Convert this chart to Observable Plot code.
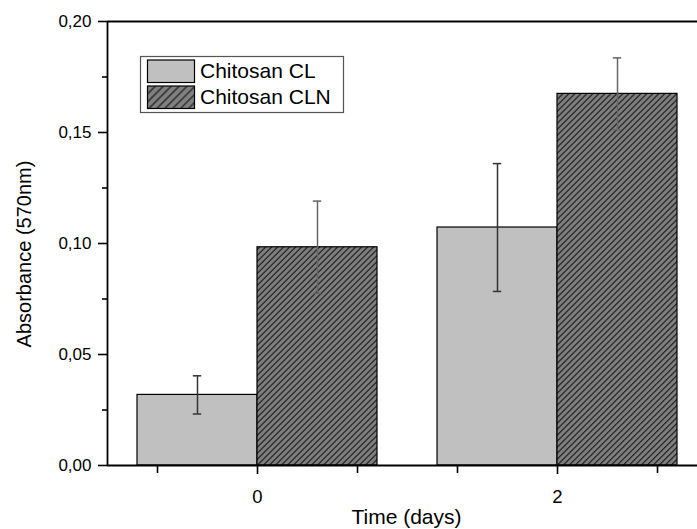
<!DOCTYPE html>
<html><head><meta charset="utf-8">
<script src="https://cdn.jsdelivr.net/npm/d3@7"></script>
<script src="https://cdn.jsdelivr.net/npm/@observablehq/plot@0.6"></script>
<style>body{margin:0;background:#fff} svg{display:block}</style>
</head><body><div id="chart"></div>
<script>
const days = [0, 2];
const seriesNames = ["Chitosan CL", "Chitosan CLN"];
const clMean = [0.0318, 0.1072];
const clErr = [0.0086, 0.0288];
const clnMean = [0.0983, 0.1674];
const clnErr = [0.0208, 0.0162];
const yTicks = [0, 0.05, 0.10, 0.15, 0.20];
const yMinorTicks = [0.025, 0.075, 0.125, 0.175];
const xLabeledTicks = [0, 2];
const xMinorTicks = [-0.6667, 0.6667, 1.3333, 2.6667];
const xLabel = "Time (days)";
const yLabel = "Absorbance (570nm)";

const barW = 0.8;
const rows = [];
days.forEach((d, i) => {
  rows.push({day: d, series: seriesNames[0], x1: d - barW, x2: d, xc: d - barW / 2, y: clMean[i], err: clErr[i]});
  rows.push({day: d, series: seriesNames[1], x1: d, x2: d + barW, xc: d + barW / 2, y: clnMean[i], err: clnErr[i]});
});
const cl = rows.filter(r => r.series === seriesNames[0]);
const cln = rows.filter(r => r.series === seriesNames[1]);
const capHalf = 0.028;
const fmt = v => d3.format(".2f")(v).replace(".", ",");
const errMarks = (data, color) => [
  Plot.ruleX(data, {x: "xc", y1: d => d.y - d.err, y2: d => d.y + d.err, stroke: color, strokeWidth: 1.5}),
  Plot.ruleY(data, {y: d => d.y + d.err, x1: d => d.xc - capHalf, x2: d => d.xc + capHalf, stroke: color, strokeWidth: 1.5}),
  Plot.ruleY(data, {y: d => d.y - d.err, x1: d => d.xc - capHalf, x2: d => d.xc + capHalf, stroke: color, strokeWidth: 1.5})
];

const plot = Plot.plot({
  width: 697, height: 529,
  marginLeft: 107, marginRight: 0, marginTop: 21, marginBottom: 64,
  style: {fontFamily: "'Liberation Sans', Arial, sans-serif", fontSize: "16px", background: "#fff", color: "#000"},
  x: {domain: [-1, 2.9333]},
  y: {domain: [0, 0.2]},
  marks: [
    Plot.rect(cl, {x1: "x1", x2: "x2", y1: 0, y2: "y", fill: "#c0c0c0", stroke: "#000", strokeWidth: 1.2}),
    Plot.rect(cln, {x1: "x1", x2: "x2", y1: 0, y2: "y", fill: "url(#hatch)", stroke: "#000", strokeWidth: 1.2}),
    ...errMarks(cl, "#333"),
    ...errMarks(cln, "#666"),
    Plot.axisY({ticks: yTicks, tickFormat: fmt, tickSize: 9, tickPadding: 7, fontSize: 17, strokeWidth: 1.6, label: null}),
    Plot.axisY({ticks: yMinorTicks, tickFormat: () => "", tickSize: 5, strokeWidth: 1.6, label: null}),
    Plot.axisX({ticks: xLabeledTicks, tickFormat: d => String(d), tickSize: 9, tickPadding: 15, fontSize: 18.5, strokeWidth: 1.6, label: null}),
    Plot.axisX({ticks: xMinorTicks, tickFormat: () => "", tickSize: 8, strokeWidth: 1.6, label: null}),
    Plot.ruleX([-1], {stroke: "#000", strokeWidth: 1.8}),
    Plot.ruleY([0], {stroke: "#000", strokeWidth: 1.8}),
    Plot.ruleY([0.2], {stroke: "#000", strokeWidth: 1.8}),
    Plot.text([xLabel], {frameAnchor: "bottom", textAnchor: "middle", lineAnchor: "middle", dx: 4, dy: 51.5, fontSize: 21, fill: "#000"}),
    Plot.text([yLabel], {frameAnchor: "left", textAnchor: "middle", lineAnchor: "middle", rotate: -90, dx: -83, dy: 10.5, fontSize: 20, fill: "#000"})
  ]
});

const svg = d3.select(plot);
const defs = svg.insert("defs", ":first-child");
function addHatch(id, s) {
  const p = defs.append("pattern").attr("id", id).attr("patternUnits", "userSpaceOnUse")
    .attr("width", s).attr("height", s).attr("patternTransform", "rotate(45)");
  p.append("rect").attr("width", s).attr("height", s).attr("fill", "#808080");
  p.append("line").attr("x1", s / 2).attr("y1", 0).attr("x2", s / 2).attr("y2", s)
    .attr("stroke", "#111").attr("stroke-width", 1.1);
}
addHatch("hatch", 4.24);
addHatch("hatch2", 5.6);

// legend
const lg = svg.append("g").attr("text-anchor", "start");
lg.append("rect").attr("x", 140.5).attr("y", 56.5).attr("width", 203).attr("height", 56)
  .attr("fill", "#fff").attr("stroke", "#555").attr("stroke-width", 1.2);
const legendFills = ["#c0c0c0", "url(#hatch2)"];
seriesNames.forEach((name, i) => {
  lg.append("rect").attr("x", 147.5).attr("y", 60 + i * 26).attr("width", 47).attr("height", 22.5)
    .attr("fill", legendFills[i]).attr("stroke", "#000").attr("stroke-width", 1.2);
  lg.append("text").attr("x", 200).attr("y", 78.3 + i * 25.2).attr("font-size", 21)
    .attr("text-anchor", "start").attr("fill", "#000").text(name);
});

document.getElementById("chart").appendChild(plot);
</script>
</body></html>
